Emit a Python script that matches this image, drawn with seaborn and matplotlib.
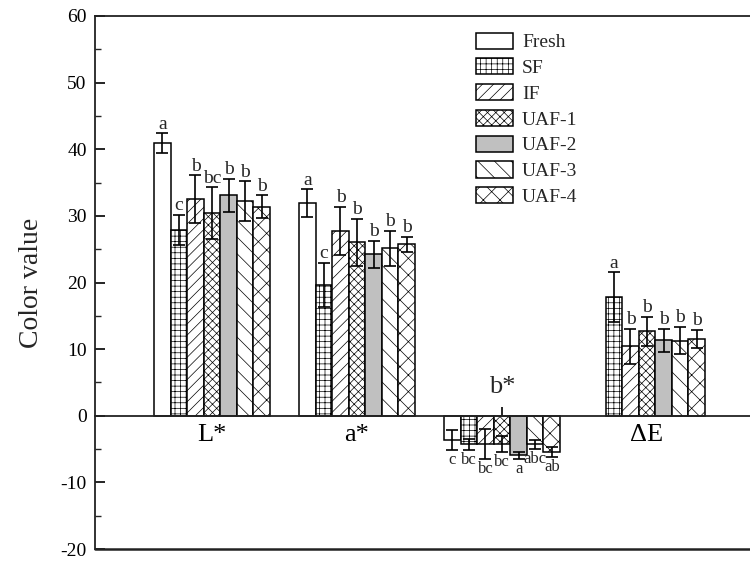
import matplotlib
matplotlib.use("Agg")
import matplotlib.pyplot as plt
from matplotlib.patches import Patch
import seaborn as sns
import pandas as pd
import numpy as np

# ---------------- data ----------------
params = ["L*", "a*", "b*", "ΔE"]
groups = ["Fresh", "SF", "IF", "UAF-1", "UAF-2", "UAF-3", "UAF-4"]

L_mean = [40.9, 27.9, 32.5, 30.4, 33.1, 32.2, 31.4]
L_err = [1.5, 2.3, 3.6, 3.9, 2.5, 3.0, 1.7]
L_sig = ["a", "c", "b", "bc", "b", "b", "b"]

a_mean = [31.9, 19.65, 27.8, 26.05, 24.25, 25.15, 25.75]
a_err = [2.1, 3.35, 3.6, 3.55, 2.0, 2.65, 1.1]
a_sig = ["a", "c", "b", "b", "b", "b", "b"]

b_mean = [-3.6, -4.3, -4.25, -4.3, -5.95, -4.3, -5.45]
b_err = [1.5, 0.8, 2.25, 1.2, 0.55, 0.7, 0.75]
b_sig = ["c", "bc", "bc", "bc", "a", "abc", "ab"]

# no Fresh bar for ΔE
dE_mean = [None, 17.8, 10.4, 12.65, 11.3, 11.25, 11.5]
dE_err = [None, 3.75, 2.65, 2.15, 1.7, 2.05, 1.4]
dE_sig = [None, "a", "b", "b", "b", "b", "b"]

# ---------------- styles ----------------
fills = ["white", "white", "white", "white", "#c0c0c0", "white", "white"]
hatches = ["", "+++", "///", "xxxx", "", "\\\\", "xx"]

sns.set_theme(style="white")
plt.rcParams["font.family"] = ["Liberation Serif", "DejaVu Serif"]
plt.rcParams["axes.unicode_minus"] = False
plt.rcParams["hatch.linewidth"] = 0.5
plt.rcParams["hatch.color"] = "#333333"

rows = []
for p, means, errs, sigs in [("L*", L_mean, L_err, L_sig), ("a*", a_mean, a_err, a_sig),
                             ("b*", b_mean, b_err, b_sig), ("ΔE", dE_mean, dE_err, dE_sig)]:
    for g, m, e, s in zip(groups, means, errs, sigs):
        if m is None:
            continue
        rows.append({"param": p, "group": g, "value": m, "err": e, "sig": s})
df = pd.DataFrame(rows)

fig = plt.figure(figsize=(7.5, 5.62), dpi=100)
ax = fig.add_axes([95 / 750, 1 - 549 / 562, 1 - 95 / 750, 533 / 562])

sns.barplot(data=df, x="param", y="value", hue="group", order=params, hue_order=groups,
            palette=dict(zip(groups, fills)), edgecolor="black", linewidth=1.1,
            width=0.8, errorbar=None, legend=False, saturation=1, ax=ax)

bar_conts = list(ax.containers)[:len(groups)]
for gi, cont in enumerate(bar_conts):
    g = groups[gi]
    sub = df[df["group"] == g]
    for bar in cont:
        bar.set_hatch(hatches[gi])
        bar.set_edgecolor("black")
        xc = bar.get_x() + bar.get_width() / 2
        pi = int(round(xc))
        row = sub[sub["param"] == params[pi]]
        if row.empty:
            continue
        m = float(row["value"].iloc[0])
        e = float(row["err"].iloc[0])
        s = row["sig"].iloc[0]
        ax.errorbar(xc, m, yerr=e, fmt="none", ecolor="black", elinewidth=1.2,
                    capsize=4.5, capthick=1.2, zorder=5)
        if m >= 0:
            ax.text(xc, m + e + 0.1, s, ha="center", va="bottom", fontsize=14)
        else:
            ax.text(xc, m - e - 0.3, s, ha="center", va="top", fontsize=12)

ax.set_xlim(-0.807, 3.71)
ax.set_ylim(-20, 60)
ax.set_yticks(np.arange(-20, 61, 10))
ax.set_yticks(np.arange(-20, 61, 5), minor=True)
ax.set_xticks(range(len(params)))
ax.set_xticklabels(["L*", "a*", "", "ΔE"])
ax.text(2, 3.4, "b*", ha="center", va="baseline", fontsize=19)

ax.set_xlabel("")
ax.set_ylabel("Color value", fontsize=20, labelpad=12)

ax.spines["bottom"].set_position(("data", 0))
ax.spines["right"].set_visible(False)
for sp in ["left", "top", "bottom"]:
    ax.spines[sp].set_linewidth(1.3)
    ax.spines[sp].set_color("#222222")
ax.axhline(-20, color="#222222", lw=1.8, clip_on=False, zorder=6)

ax.tick_params(axis="y", which="major", direction="in", length=7, width=1.2,
               labelsize=14, left=True, pad=6, colors="black")
ax.tick_params(axis="y", which="minor", direction="in", length=4, width=1.0, left=True)
ax.tick_params(axis="x", which="major", direction="in", length=6.5, width=1.2,
               bottom=True, pad=6, colors="black", labelsize=19)

handles = [Patch(facecolor=f, edgecolor="black", hatch=h, linewidth=1.1)
           for f, h in zip(fills, hatches)]
ax.legend(handles, groups, loc="upper left", bbox_to_anchor=(0.582, 0.969),
          frameon=False, fontsize=14, handlelength=1.9, handleheight=0.9,
          handletextpad=0.45, labelspacing=0.36, borderpad=0, borderaxespad=0)

fig.savefig("out.png", dpi=100)
